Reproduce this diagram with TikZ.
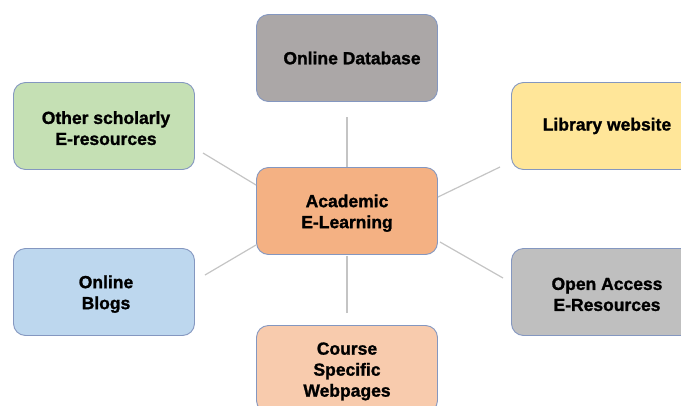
\documentclass[tikz,border=0pt]{standalone}
\usepackage{fontspec}
\setmainfont{Liberation Sans}[BoldFeatures={FakeBold=1.3}]
\definecolor{cOD}{HTML}{ABA7A7}
\definecolor{cOS}{HTML}{C5E0B4}
\definecolor{cLW}{HTML}{FFE699}
\definecolor{cAC}{HTML}{F4B183}
\definecolor{cOB}{HTML}{BDD7EE}
\definecolor{cOA}{HTML}{BFBFBF}
\definecolor{cCS}{HTML}{F8CBAD}
\definecolor{bord}{HTML}{8497C0}
\definecolor{lineg}{HTML}{C4C4C4}
\tikzset{
  box/.style={draw=bord, line width=0.9pt, rounded corners=12pt, minimum width=181pt, minimum height=87pt,
    align=center, inner sep=0pt, font=\fontsize{17.5}{21}\selectfont\bfseries},
  conn/.style={draw=lineg, line width=1.2pt}
}
\begin{document}
\begin{tikzpicture}[x=1pt,y=-1pt]
\useasboundingbox (0,0) rectangle (681,405);
\node[box, fill=cOD] (od) at (347,58) {\hspace*{10pt}Online Database};
\node[box, fill=cOS] (os) at (104,126) {\rule{0pt}{5pt}\\[-9pt]\hspace*{4pt}Other scholarly\\\hspace*{4pt}E-resources};
\node[box, fill=cLW] (lw) at (602,126) {\hspace*{10pt}Library website};
\node[box, fill=cAC] (ac) at (347,211) {\rule{0pt}{5pt}\\[-9pt]Academic\\E-Learning};
\node[box, fill=cOB] (ob) at (104,292) {\rule{0pt}{5pt}\\[-9pt]\hspace*{4pt}Online\\\hspace*{4pt}Blogs};
\node[box, fill=cOA] (oa) at (602,292) {\rule{0pt}{5pt}\\[-9pt]\hspace*{10pt}Open Access\\\hspace*{10pt}E-Resources};
\node[box, fill=cCS] (cs) at (347,369) {\rule{0pt}{5pt}\\[-9pt]Course\\Specific\\Webpages};
\coordinate (odE) at (347,117);
\coordinate (osE) at (203,153);
\coordinate (lwE) at (500,167);
\coordinate (obE) at (205,275);
\coordinate (oaE) at (503,278);
\coordinate (csE) at (347,313);
\coordinate (acN) at (347,167);
\coordinate (acOS) at (256,185);
\coordinate (acLW) at (438,197);
\coordinate (acOB) at (256,245);
\coordinate (acOA) at (440,242);
\coordinate (acS) at (347,256);
\draw[conn] (odE) -- (acN);
\draw[conn] (osE) -- (acOS);
\draw[conn] (lwE) -- (acLW);
\draw[conn] (obE) -- (acOB);
\draw[conn] (oaE) -- (acOA);
\draw[conn] (csE) -- (acS);
\end{tikzpicture}
\end{document}
